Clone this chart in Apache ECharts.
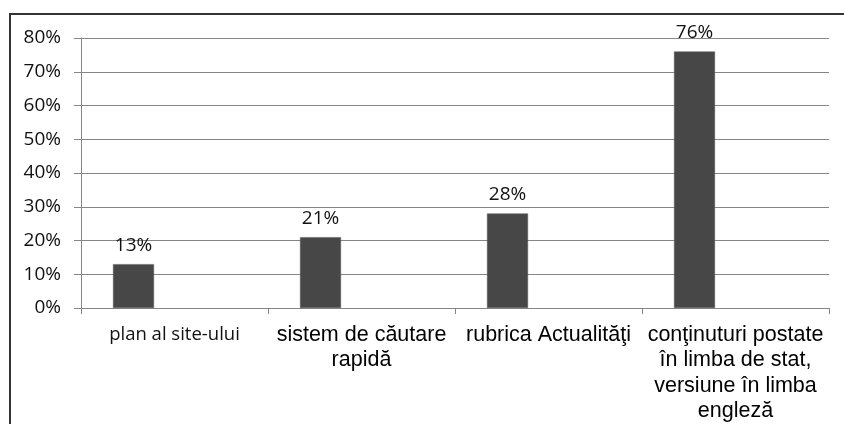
<!DOCTYPE html>
<html>
<head>
<meta charset="utf-8">
<script src="https://cdn.jsdelivr.net/npm/echarts@6/dist/echarts.min.js"></script>
<style>
html,body{margin:0;padding:0;background:#fff;}
#chart{width:844px;height:424px;}
</style>
</head>
<body>
<div id="chart"></div>
<script>
const categories = [
  "plan al site-ului",
  "sistem de căutare\nrapidă",
  "rubrica Actualităţi",
  "conţinuturi postate\nîn limba de stat,\nversiune în limba\nengleză"
];
const values = [13, 21, 28, 76];
const emptySeries = [null, null, null, null];
const yTicks = { min: 0, max: 80, interval: 10 };

const chart = echarts.init(document.getElementById('chart'));
chart.setOption({
  animation: false,
  backgroundColor: '#fff',
  graphic: [{
    type: 'rect',
    shape: { x: 10, y: 14, width: 900, height: 500 },
    style: { fill: 'none', stroke: '#333', lineWidth: 2 },
    silent: true
  }],
  grid: { left: 81, right: 15, top: 38, bottom: 116, containLabel: false },
  xAxis: {
    type: 'category',
    data: categories,
    axisLine: { show: true, lineStyle: { color: '#868686', width: 1 } },
    axisTick: { show: true, alignWithLabel: false, length: 6, lineStyle: { color: '#868686' } },
    axisLabel: {
      interval: 0,
      margin: 14,
      fontFamily: 'Liberation Sans',
      fontSize: 21.5,
      lineHeight: 25.5,
      color: '#000',
      formatter: function (v, i) {
        return i === 0 ? '{a|' + v + '}' : v;
      },
      rich: {
        a: { fontFamily: 'Open Sans', fontSize: 18.5, color: '#111', lineHeight: 25.5 }
      }
    }
  },
  yAxis: {
    type: 'value',
    min: yTicks.min,
    max: yTicks.max,
    interval: yTicks.interval,
    axisLine: { show: true, lineStyle: { color: '#868686', width: 1 } },
    axisTick: { show: true, length: 7, lineStyle: { color: '#868686' } },
    splitLine: { show: true, lineStyle: { color: '#868686', width: 1 } },
    axisLabel: {
      margin: 20,
      fontFamily: 'Open Sans',
      fontSize: 19,
      color: '#111',
      formatter: '{value}%'
    }
  },
  series: [
    {
      type: 'bar',
      data: values,
      barWidth: 41,
      barGap: '100%',
      itemStyle: { color: '#474747', borderColor: '#5a5a5a', borderWidth: 0.5 },
      label: {
        show: true,
        position: 'top',
        distance: 9,
        fontFamily: 'Open Sans',
        fontSize: 19,
        color: '#111',
        formatter: '{c}%'
      }
    },
    {
      type: 'bar',
      data: emptySeries,
      barWidth: 41
    }
  ]
});
</script>
</body>
</html>
